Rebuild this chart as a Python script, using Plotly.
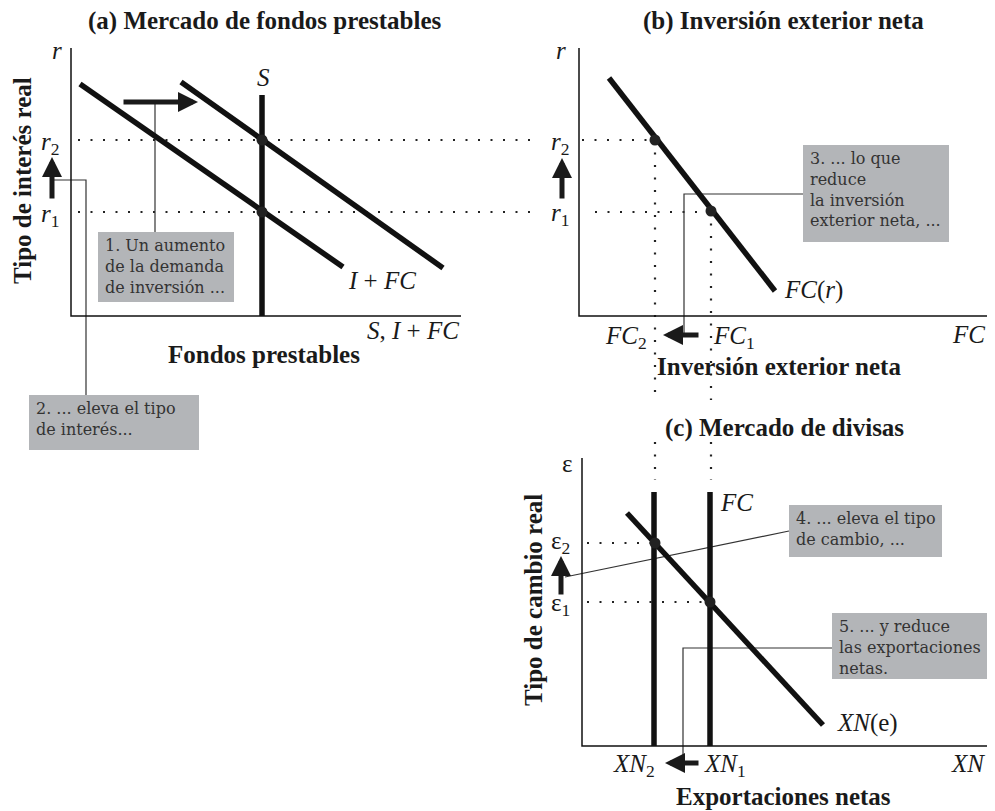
import plotly.graph_objects as go

W, H = 995, 811
BORDE = 8  # margen por defecto del body de la pagina

# ---- (a) Mercado de fondos prestables
eje_a_x = [71, 71, 461]
eje_a_y = [48, 316, 316]
demanda1_x = [80, 343]
demanda1_y = [84, 267]
demanda2_x = [181, 443]
demanda2_y = [82, 268]
ahorro_x = [262, 262]
ahorro_y = [95, 316]

# ---- (b) Inversion exterior neta
eje_b_x = [579, 579, 987]
eje_b_y = [48, 316, 316]
fc_r_x = [609, 775]
fc_r_y = [78, 291]

# ---- (c) Mercado de divisas
eje_c_x = [582, 582, 987]
eje_c_y = [458, 746, 746]
oferta_fc_x = [654, 654, None, 710, 710]
oferta_fc_y = [492, 746, None, 492, 746]
xn_x = [627, 823]
xn_y = [513, 725]

# equilibrios
equilibrio_x = [262, 262, 655, 711, 655, 710]
equilibrio_y = [140, 212, 140, 211, 543, 602]

# lineas punteadas de referencia
punteado_x = [78, 533, None, 582, 655, None, 78, 533, None, 595, 711, None,
              655, 655, None, 655, 655, None, 711, 711, None, 711, 711, None,
              587, 655, None, 587, 710]
punteado_y = [140, 140, None, 140, 140, None, 212, 212, None, 212, 212, None,
              140, 400, None, 442, 480, None, 211, 400, None, 442, 480, None,
              543, 543, None, 602, 602]

# lineas finas de los comentarios
guia_x = [155, 155, None, 52, 86, 86, None, 803, 684, 684, None,
          565, 789, None, 832, 683, 683]
guia_y = [102, 232, None, 180, 180, 395, None, 194, 194, 335, None,
          577, 531, None, 648, 648, 763]

# flechas gruesas (cola -> punta)
flecha_cola_x = [122, 52, 562, 700, 561, 700]
flecha_cola_y = [102, 200, 200, 335, 596, 763]
flecha_punta_x = [198, 52, 562, 663, 561, 665]
flecha_punta_y = [102, 157, 158, 335, 556, 763]

# recuadros grises
caja_x0 = [98, 29, 803, 789, 832]
caja_x1 = [234, 199, 949, 942, 989]
caja_y0 = [232, 395, 145, 505, 613]
caja_y1 = [302, 450, 242, 557, 679]
caja_texto = [
    "1. Un aumento<br>de la demanda<br>de inversión ...",
    "2. ... eleva el tipo<br>de interés...",
    "3. ... lo que<br>reduce<br>la inversión<br>exterior neta, ...",
    "4. ... eleva el tipo<br>de cambio, ...",
    "5. ... y reduce<br>las exportaciones<br>netas.",
]

# titulos de panel
titulo_texto = ["(a) Mercado de fondos prestables", "(b) Inversión exterior neta",
                "(c) Mercado de divisas"]
titulo_x = [264, 783, 784]
titulo_y = [21, 21, 428]

# titulos de ejes
eje_texto = ["Fondos prestables", "Inversión exterior neta", "Exportaciones netas",
             "Tipo de interés real", "Tipo de cambio real"]
eje_tx = [264, 779, 783, 22, 533]
eje_ty = [354, 366, 796, 181, 600]
eje_rot = [0, 0, 0, -90, -90]

# etiquetas de curvas y valores
etiqueta_texto = ["<i>r</i>", "<i>S</i>", "<i>I</i> + <i>FC</i>", "<i>S</i>, <i>I</i> + <i>FC</i>",
                  "<i>r</i><sub>2</sub>", "<i>r</i><sub>1</sub>",
                  "<i>r</i>", "<i>r</i><sub>2</sub>", "<i>r</i><sub>1</sub>",
                  "<i>FC</i>(<i>r</i>)", "<i>FC</i><sub>2</sub>", "<i>FC</i><sub>1</sub>", "<i>FC</i>",
                  "ε", "ε<sub>2</sub>", "ε<sub>1</sub>", "<i>FC</i>", "<i>XN</i>(e)",
                  "<i>XN</i><sub>2</sub>", "<i>XN</i><sub>1</sub>", "<i>XN</i>"]
etiqueta_x = [57, 263, 382, 461, 50, 50, 561, 560, 560, 782, 626, 734, 987,
              567, 560, 560, 736, 835, 634, 725, 987]
etiqueta_y = [50, 77, 280, 330, 143, 215, 50, 143, 214, 290, 337, 337, 334,
              463, 542, 604, 502, 723, 765, 765, 763]
etiqueta_ancla = ["center", "center", "center", "right", "center", "center",
                  "center", "center", "center", "left", "center", "center", "right",
                  "center", "center", "center", "center", "left", "center", "center", "right"]

SERIF = "Liberation Serif"
NEGRO = "#111111"

fig = go.Figure()

def linea(x, y, ancho, color=NEGRO, dash="solid"):
    fig.add_trace(go.Scatter(x=x, y=y, mode="lines", hoverinfo="skip",
                             line=dict(color=color, width=ancho, dash=dash)))

for i in range(len(caja_x0)):
    fig.add_shape(type="rect", xref="x", yref="y", x0=caja_x0[i], x1=caja_x1[i],
                  y0=caja_y0[i], y1=caja_y1[i], fillcolor="#b3b5b8",
                  line=dict(width=0), layer="below")

linea(punteado_x, punteado_y, 2.2, "#222222", "2px,10.5px")
linea(guia_x, guia_y, 1.2, "#333333")
for ex, ey in [(eje_a_x, eje_a_y), (eje_b_x, eje_b_y), (eje_c_x, eje_c_y)]:
    linea(ex, ey, 1.5)
for cx, cy in [(demanda1_x, demanda1_y), (demanda2_x, demanda2_y), (ahorro_x, ahorro_y),
               (fc_r_x, fc_r_y), (oferta_fc_x, oferta_fc_y), (xn_x, xn_y)]:
    linea(cx, cy, 5.5)

fig.add_trace(go.Scatter(x=equilibrio_x, y=equilibrio_y, mode="markers", hoverinfo="skip",
                         marker=dict(size=11, color="#222222")))

anotaciones = []
for i in range(len(flecha_cola_x)):
    anotaciones.append(dict(x=flecha_punta_x[i], y=flecha_punta_y[i], ax=flecha_cola_x[i],
                            ay=flecha_cola_y[i], xref="x", yref="y", axref="x", ayref="y",
                            text="", showarrow=True, arrowhead=2, arrowsize=0.8,
                            arrowwidth=5, arrowcolor="#1a1a1a", standoff=0))
for i in range(len(caja_texto)):
    anotaciones.append(dict(x=caja_x0[i] + 5, y=caja_y0[i] + 2, xref="x", yref="y",
                            text=caja_texto[i], showarrow=False, xanchor="left",
                            yanchor="top", align="left",
                            font=dict(family="DejaVu Serif", size=16, color="#333333")))
for i in range(len(titulo_texto)):
    anotaciones.append(dict(x=titulo_x[i], y=titulo_y[i], xref="x", yref="y",
                            text="<b>%s</b>" % titulo_texto[i], showarrow=False,
                            font=dict(family=SERIF, size=25, color="#1a1a1a")))
for i in range(len(eje_texto)):
    anotaciones.append(dict(x=eje_tx[i], y=eje_ty[i], xref="x", yref="y",
                            text="<b>%s</b>" % eje_texto[i], showarrow=False,
                            textangle=eje_rot[i],
                            font=dict(family=SERIF, size=25, color="#1a1a1a")))
for i in range(len(etiqueta_texto)):
    anotaciones.append(dict(x=etiqueta_x[i], y=etiqueta_y[i], xref="x", yref="y",
                            text=etiqueta_texto[i], showarrow=False,
                            xanchor=etiqueta_ancla[i],
                            font=dict(family=SERIF, size=25, color="#1a1a1a")))

# la pagina coloca el grafico desplazado BORDE px: se compensa en los rangos
fig.update_layout(
    width=W - BORDE, height=H - BORDE, margin=dict(l=0, r=0, t=0, b=0),
    paper_bgcolor="white", plot_bgcolor="white", showlegend=False,
    xaxis=dict(range=[BORDE, W], visible=False, fixedrange=True),
    yaxis=dict(range=[H, BORDE], visible=False, fixedrange=True),
    annotations=anotaciones,
)

fig.write_html("out.html")
